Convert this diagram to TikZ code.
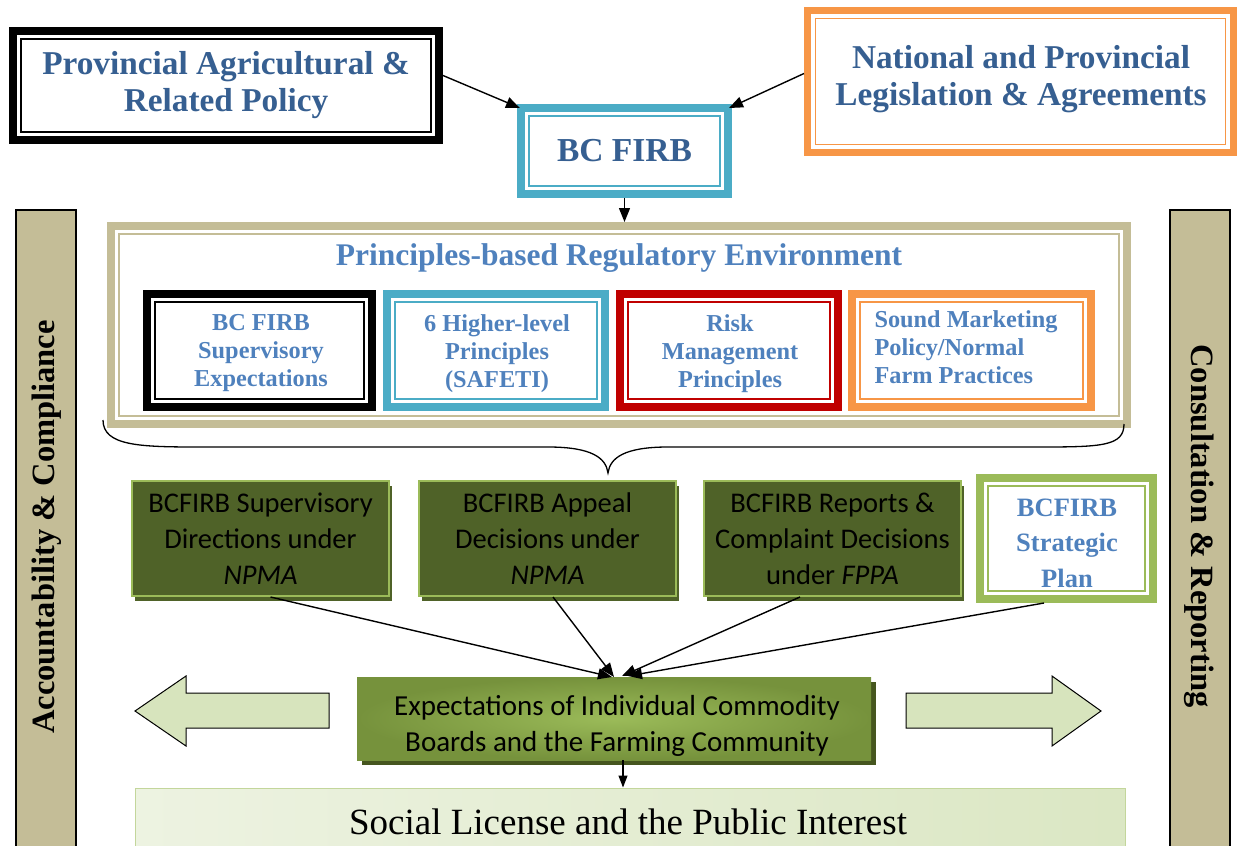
\documentclass[tikz,border=0pt]{standalone}
\usepackage{fontspec}
\usepackage{graphicx}
\setmainfont{Liberation Serif}
\newfontfamily\calfont{Carlito}
\usetikzlibrary{arrows.meta,shadows}

\definecolor{darkblue}{HTML}{365F91}
\definecolor{lightblue}{HTML}{4F81BD}
\definecolor{teal}{HTML}{4BACC6}
\definecolor{orangeb}{HTML}{F79646}
\definecolor{redb}{HTML}{C00000}
\definecolor{tan}{HTML}{C4BD97}
\definecolor{greenb}{HTML}{9BBB59}
\definecolor{olive}{HTML}{4F6228}
\definecolor{olivedark}{HTML}{46561F}
\definecolor{greenmid}{HTML}{76923C}
\definecolor{arrowfill}{HTML}{D7E4BD}

\tikzset{
  framebox/.style 2 args={draw=#1, line width=#2, fill=white, inner sep=0pt, align=center,
    path picture={\draw[#1, line width=1.6pt]
      ([shift={(8pt,-8pt)}]path picture bounding box.north west) rectangle
      ([shift={(-8pt,8pt)}]path picture bounding box.south east);}},
  bigtext/.style={text=darkblue, font=\bfseries\fontsize{33.3}{37}\selectfont, align=center},
  smalltext/.style={text=lightblue, font=\bfseries\fontsize{24.3}{28}\selectfont, align=center},
  gbox/.style={fill=olive, draw=greenb, line width=2pt, minimum width=257pt, minimum height=115pt,
    inner sep=0pt, align=center, font=\calfont\fontsize{28.5}{36}\selectfont,
    general shadow={fill=olive, shadow xshift=3pt, shadow yshift=-5pt}},
  sidebar/.style={fill=tan, draw=black, line width=1.5pt, minimum width=60pt, minimum height=640pt, inner sep=0pt},
  sidetext/.style={font=\bfseries\fontsize{32.5}{36}\selectfont, inner sep=0pt},
  arr/.style={line width=1.4pt, -{Triangle[length=14pt,width=11pt]}},
  blockarrow/.style={fill=arrowfill, draw=black, line width=1pt, line join=miter},
}

\begin{document}
\begin{tikzpicture}[x=1pt,y=-1pt]
\clip (0,0) rectangle (1237,846);
\useasboundingbox (0,0) rectangle (1237,846);

% side bars
\node[sidebar] (acc) at (46,530) {};
\node[sidetext, rotate=90] (acctext) at (47,527) {Accountability \& Compliance};
\node[sidebar] (cons) at (1200,530) {};
\node[sidetext, rotate=-90] (constext) at (1199,526) {Consultation \& Reporting};

% top sources
\node[framebox={black}{8pt}, minimum width=426pt, minimum height=109pt, bigtext] (policy) at (226,85.5)
  {Provincial Agricultural \&\\Related Policy};
\node[framebox={orangeb}{7pt}, minimum width=426pt, minimum height=142pt] (legis) at (1020.5,81.5) {};
\node[bigtext] (legistext) at (1021,79) {National and Provincial\\Legislation \& Agreements};
\node[framebox={teal}{8pt}, minimum width=207pt, minimum height=86pt, text=darkblue,
  font=\bfseries\fontsize{33.5}{40}\selectfont] (firb) at (624.5,151) {BC FIRB};

% principles-based environment
\node[framebox={tan}{8pt}, minimum width=1016pt, minimum height=198pt] (prin) at (619,325) {};
\node[text=lightblue, font=\bfseries\fontsize{31.5}{34}\selectfont] (prtitle) at (619,258)
  {Principles-based Regulatory Environment};
\node[framebox={black}{8pt}, minimum width=225pt, minimum height=113pt] (p1) at (259.5,350.5) {};
\node[framebox={teal}{8pt}, minimum width=218pt, minimum height=113pt] (p2) at (496,350.5) {};
\node[framebox={redb}{8pt}, minimum width=218pt, minimum height=113pt] (p3) at (729,350.5) {};
\node[framebox={orangeb}{8pt}, minimum width=239pt, minimum height=113pt] (p4) at (971.5,350.5) {};
\node[smalltext] (p1text) at (261,353.5) {BC FIRB\\Supervisory\\Expectations};
\node[smalltext] (p2text) at (497,353.5) {6 Higher-level\\Principles\\(SAFETI)};
\node[smalltext] (p3text) at (730,353.5) {Risk\\Management\\Principles};
\node[smalltext, align=left] (p4text) at (966,347.5) {Sound Marketing\\Policy/Normal\\Farm Practices};

% brace gathering the principles
\draw[line width=1.3pt] (103,420) .. controls (103,446) and (140,447) .. (200,447) -- (548,447)
  .. controls (592,447) and (606,458) .. (608,473)
  .. controls (610,458) and (624,447) .. (668,447) -- (1040,447)
  .. controls (1102,447) and (1124,446) .. (1124,424);

% instruments
\node[gbox] (g1) at (260.5,538.5) {BCFIRB Supervisory\\Directions under\\\textit{NPMA}};
\node[gbox] (g2) at (547.5,538.5) {BCFIRB Appeal\\Decisions under\\\textit{NPMA}};
\node[gbox] (g3) at (832.5,538.5) {BCFIRB Reports \&\\Complaint Decisions\\under \textit{FPPA}};
\node[framebox={greenb}{8pt}, minimum width=173pt, minimum height=121pt] (plan) at (1066.5,538.5) {};
\node[text=lightblue, align=center, font=\bfseries\fontsize{26.5}{35.5}\selectfont] (plantext) at (1067,543)
  {BCFIRB\\Strategic\\Plan};

% expectations
\node[minimum width=514pt, minimum height=83pt, inner sep=0pt,
  inner color=greenb, outer color=greenmid,
  general shadow={fill=olivedark, shadow xshift=5pt, shadow yshift=-5pt}] (exp) at (614,718.5) {};
\node[align=center, font=\calfont\fontsize{29}{36}\selectfont] (exptext) at (617,725.5)
  {Expectations of Individual Commodity\\Boards and the Farming Community};

% social license
\node[minimum width=990pt, minimum height=62pt, inner sep=0pt, left color=arrowfill!45, right color=arrowfill!90,
  draw=greenb!60, line width=1pt] (social) at (630,819) {};
\node[font=\fontsize{37}{40}\selectfont] (socialtext) at (628,822) {Social License and the Public Interest};

% sideways block arrows
\draw[blockarrow] (329,693) -- (186,693) -- (186,676) -- (135,711) -- (186,746) -- (186,728) -- (329,728) -- cycle;
\draw[blockarrow] (906,693) -- (1052,693) -- (1052,676) -- (1101,711) -- (1052,746) -- (1052,728) -- (906,728) -- cycle;

% connectors
\draw[arr] ([yshift=10pt]policy.east) -- ([shift={(3pt,-4pt)}]firb.north west);
\draw[arr] ([yshift=8pt]legis.west) -- ([shift={(-3pt,-4pt)}]firb.north east);
\draw[arr] (firb.south) -- (prin.north -| firb.south);

\coordinate (m1) at (612,677);
\coordinate (m2) at (614,677);
\coordinate (m3) at (622,676);
\coordinate (m4) at (628,676);
\draw[arr] ([xshift=10pt]g1.south) -- (m1);
\draw[arr] ([xshift=5.5pt]g2.south) -- (m2);
\draw[arr] ([xshift=-32.5pt]g3.south) -- (m3);
\draw[arr] ([xshift=-22.5pt]plan.south) -- (m4);
\draw[line width=1.2pt, -{Triangle[length=12pt,width=9pt]}] ([xshift=9pt]exp.south) -- ([xshift=9pt]exp.south |- social.north);
\end{tikzpicture}
\end{document}
